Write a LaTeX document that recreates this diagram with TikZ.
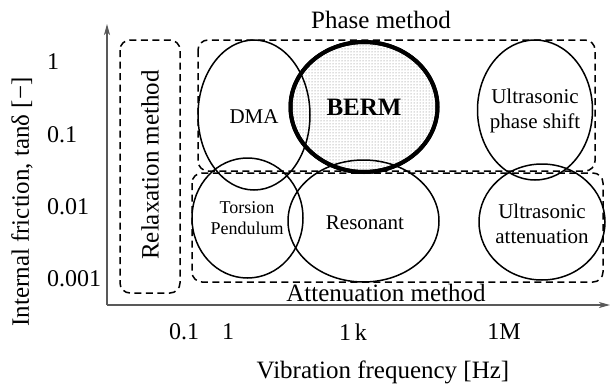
\documentclass[tikz,border=0pt]{standalone}
\usepackage{fontspec}
\setmainfont{Liberation Serif}
\usetikzlibrary{shapes.geometric,arrows.meta,patterns}

\tikzset{
  axisline/.style={draw=black!65, line width=1.2pt, -{Stealth[length=11pt,width=6pt,inset=3pt]}},
  methodbox/.style={draw, dashed, dash pattern=on 7pt off 4.5pt, line width=1.5pt, rounded corners=10pt},
  technique/.style={ellipse, draw, line width=1.5pt, inner sep=0pt, align=center, font=\fontsize{21}{25}\selectfont},
  ticklabel/.style={font=\fontsize{24}{26}\selectfont, inner sep=0pt},
  biglabel/.style={font=\fontsize{25}{27}\selectfont, inner sep=0pt}
}

\begin{document}
\begin{tikzpicture}[x=1pt,y=-1pt]
\useasboundingbox (0,0) rectangle (611,391);
% axes
\coordinate (origin) at (107,305);
\coordinate (ytop) at (107,24);
\coordinate (xend) at (610,305);
\draw[axisline] (origin) -- (ytop); % y axis
\draw[axisline] (origin) -- (xend); % x axis
% tick labels
\node[ticklabel, anchor=west] (yone) at (47,62) {1};
\node[ticklabel, anchor=west] (ytenth) at (47,135) {0.1};
\node[ticklabel, anchor=west] (yhundredth) at (47,207) {0.01};
\node[ticklabel, anchor=west] (ythousandth) at (47,279) {0.001};
\node[ticklabel] (xtenth) at (184,332) {0.1};
\node[ticklabel] (xone) at (228,332) {1};
\node[ticklabel] (xkilo) at (353,332) {1\,k};
\node[ticklabel] (xmega) at (504,332) {1M};
% axis titles
\node[biglabel] (xtitle) at (383,372) {Vibration frequency [Hz]};
\node[biglabel, rotate=90] (ytitle) at (22,202) {Internal friction, tanδ [−]};
% method regions
\draw[methodbox] (120,40) rectangle (180,293); % relaxation
\node[biglabel, rotate=90] (relaxation) at (150,165) {Relaxation method};
\draw[methodbox] (198,40) rectangle (595,171); % phase
\node[biglabel] (phase) at (381,20) {Phase method};
\draw[methodbox] (192,173) rectangle (603,282); % attenuation
\node[biglabel] (attenuation) at (386,293) {Attenuation method};
% techniques
\node[technique, line width=4pt, minimum width=147pt, minimum height=130pt,
      fill=white, postaction={pattern=dots, pattern color=black!55},
      font=\fontsize{25}{27}\selectfont\bfseries] (berm) at (364,107) {BERM};
\node[technique, minimum width=112pt, minimum height=150pt] (dma) at (254,115) {};
\node (dmatext) at (254,117) [technique, draw=none] {DMA};
\node[technique, minimum width=115pt, minimum height=140pt] (usphase) at (535,110) {};
\node[technique, draw=none] (usphasetext) at (535,111) {Ultrasonic\\phase shift};
\node[technique, minimum width=111pt, minimum height=120pt] (torsion) at (247.5,218) {};
\node[technique, draw=none, font=\fontsize{18}{21}\selectfont] (torsiontext) at (247,218) {Torsion\\Pendulum};
\node[technique, minimum width=151pt, minimum height=122pt] (resonant) at (363.5,221) {};
\node[technique, draw=none] (resonanttext) at (365,223) {Resonant};
\node[technique, minimum width=126pt, minimum height=116pt] (usatten) at (542,222) {};
\node[technique, draw=none] (usattentext) at (542,224) {Ultrasonic\\attenuation};
\draw[line width=4pt] (berm.center) ellipse (73.5pt and 65pt); % BERM outline on top
\end{tikzpicture}
\end{document}
